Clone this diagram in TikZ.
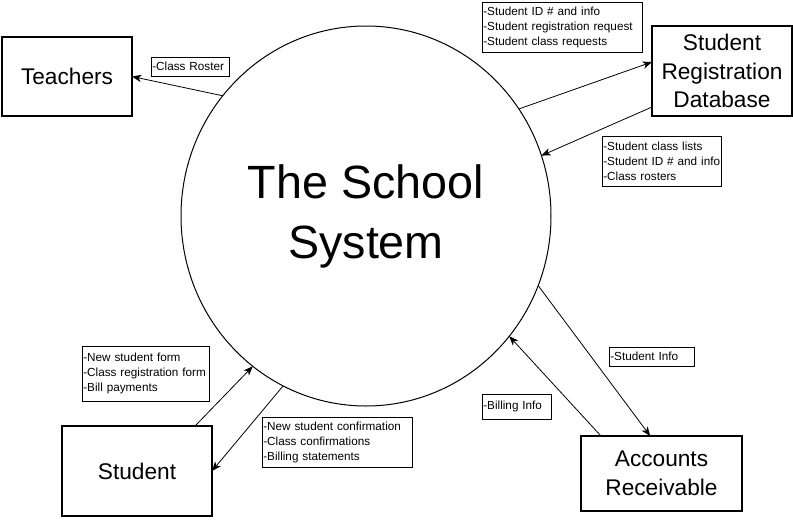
\documentclass[tikz,border=0pt]{standalone}
\usepackage{fontspec}
\setmainfont{Liberation Sans}
\usetikzlibrary{arrows.meta,shapes.geometric,calc}
\newcommand\labline[1]{\mbox{#1}}
\begin{document}
\begin{tikzpicture}[x=0.75pt,y=-0.75pt,
  bigbox/.style={draw,line width=0.9pt,font=\fontsize{17}{21.5}\selectfont,align=center,inner sep=0pt,outer sep=0pt},
  lab/.style={draw,line width=0.7pt,font=\fontsize{8.8}{11.25}\selectfont,align=left,inner xsep=1pt,inner ysep=0pt,anchor=north west,outer sep=0pt},
  flow/.style={line width=0.6pt,-{Stealth[length=7pt,width=5.5pt,inset=2pt]}}]
\useasboundingbox (0,0) rectangle (793,521);
\node[ellipse,draw,line width=0.75pt,minimum width=277.5pt,minimum height=285pt,inner sep=0pt,outer sep=0pt,align=center,font=\fontsize{35}{45}\selectfont] (sys) at (366,216) {The School\\System};
\node[bigbox,minimum width=97.5pt,minimum height=59.25pt] (teach) at (67,76.5) {Teachers};
\node[bigbox,minimum width=105pt,minimum height=67.5pt] (srd) at (722,71) {Student\\Registration\\Database};
\node[bigbox,minimum width=112.5pt,minimum height=67.5pt] (stu) at (137,471) {Student};
\node[bigbox,minimum width=120.75pt,minimum height=56.25pt] (ar) at (661.5,473.5) {Accounts\\Receivable};
\node[lab,text width=56.5pt,minimum height=14.25pt] (l1) at (151,57) {\labline{-Class Roster}};
\node[lab,text width=118pt,minimum height=37.5pt] (l2) at (482,2) {\labline{-Student ID \# and info}\\\labline{-Student registration request}\\\labline{-Student class requests}};
\node[lab,text width=87.25pt,minimum height=37.5pt] (l3) at (602,136) {\labline{-Student class lists}\\\labline{-Student ID \# and info}\\\labline{-Class rosters}};
\node[lab,text width=93.25pt,minimum height=41.25pt] (l4) at (82,346) {\labline{-New student form}\\\labline{-Class registration form}\\\labline{-Bill payments}};
\node[lab,text width=110.5pt,minimum height=37.5pt] (l5) at (262,417) {\labline{-New student confirmation}\\\labline{-Class confirmations}\\\labline{-Billing statements}};
\node[lab,text width=61.75pt,minimum height=14.25pt] (l6) at (609,347) {\labline{-Student Info}};
\node[lab,text width=49.75pt,minimum height=18.75pt] (l7) at (482,394) {\labline{-Billing Info}};
\draw[flow] (sys.140) -- (teach.east);
\draw[flow] (sys.35) -- ($(srd.north west)!0.4!(srd.south west)$);
\draw[flow] ($(srd.north west)!0.9!(srd.south west)$) -- (sys.19);
\draw[flow] (sys.-22) -- ($(ar.north west)!0.43!(ar.north east)$);
\draw[flow] ($(ar.north west)!0.124!(ar.north east)$) -- (sys.-40);
\draw[flow] ($(stu.north west)!0.887!(stu.north east)$) -- (sys.233);
\draw[flow] (sys.244) -- (stu.east);
\end{tikzpicture}
\end{document}
